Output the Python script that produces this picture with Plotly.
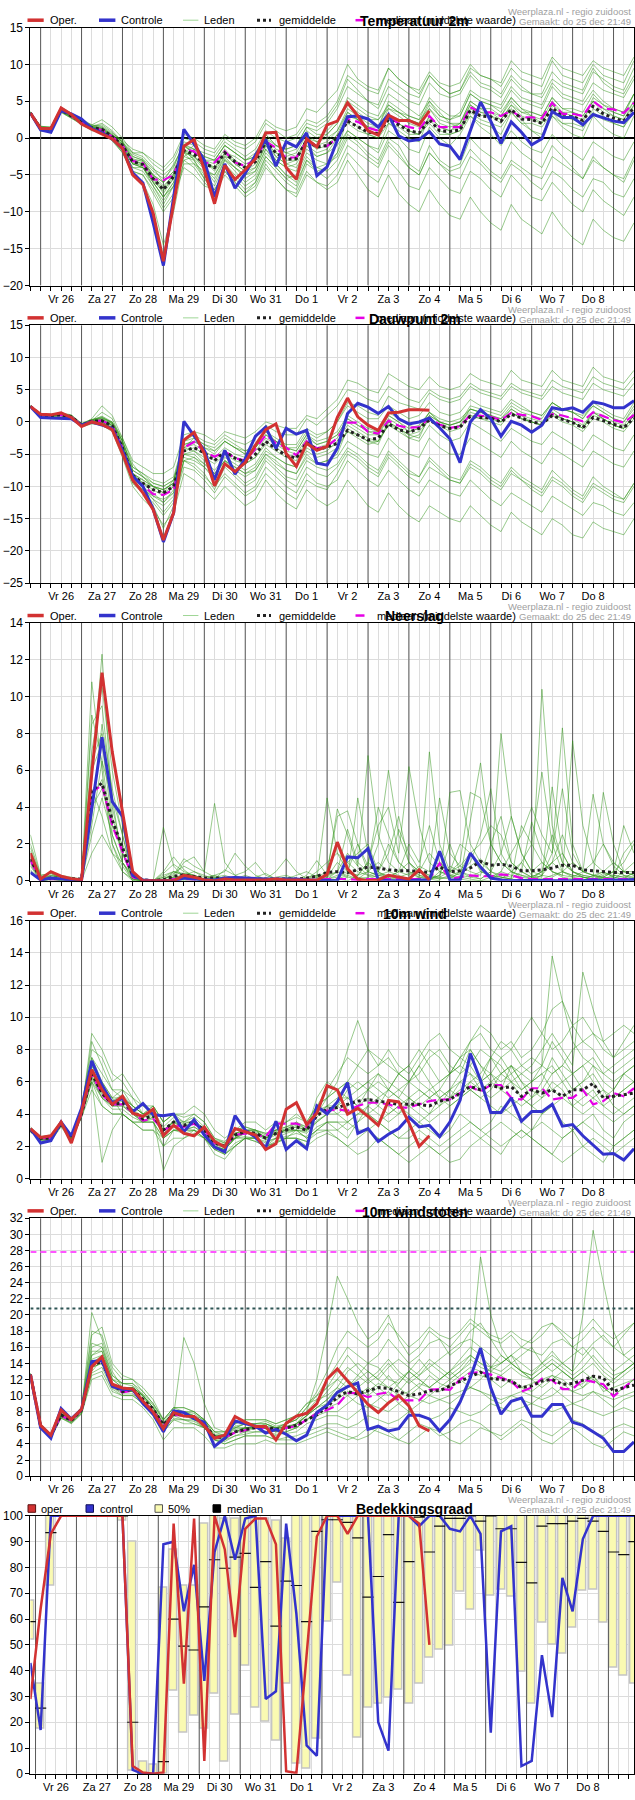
import pandas as pd
import plotly.graph_objects as go

FONT = "Liberation Sans, Arial, sans-serif"
W, H = 635, 1800

# ---------------- time axis ----------------
t_start = "2025-12-25 18:00"
t_start_cc = "2025-12-25 21:00"
n_steps = 60
day_labels = ["Vr 26", "Za 27", "Zo 28", "Ma 29", "Di 30", "Wo 31", "Do 1",
              "Vr 2", "Za 3", "Zo 4", "Ma 5", "Di 6", "Wo 7", "Do 8"]

# ---------------- Temperatuur 2m ----------------
t2m_oper = [3.4,1.3,1.3,4.1,3.2,1.9,1.2,0.6,-0.1,-1.4, -5.0,-6.3,-10.2,-16.7,-9.0,-1.1,-0.2,-4.3,-8.9,-3.7,
            -5.6,-4.3,-2.8,0.7,0.8,-4.0,-5.6,-0.1,-1.2,1.8, 2.3,4.8,3.0,1.0,0.4,3.1,2.4,2.4,1.8,3.7]
t2m_ctrl = [3.4,1.1,0.8,3.7,3.3,2.6,1.3,0.7,-0.1,-1.4, -4.7,-6.1,-11.5,-17.3,-8.0,1.2,-0.8,-3.0,-8.0,-3.5,
            -6.8,-4.8,-2.3,-0.2,-3.8,-0.5,-1.2,0.7,-5.1,-3.9, -0.3,2.9,3.0,2.6,1.5,3.2,0.3,-0.4,-0.2,0.9,
            -0.8,-1.1,-2.9,1.0,4.9,2.3,-0.7,2.2,0.8,-0.9, -0.1,3.6,2.8,2.8,1.8,3.2,2.8,2.3,2.1,3.5]
t2m_mean = [3.4,1.3,1.2,3.8,3.0,2.2,1.4,1.2,0.2,-1.0, -3.2,-3.6,-5.5,-7.0,-5.2,-1.7,-2.2,-3.5,-4.0,-2.0,
            -3.2,-4.0,-3.2,-0.5,-2.0,-2.9,-2.8,-0.3,-1.2,-1.0, 0.0,2.3,1.5,0.8,0.6,2.5,1.8,1.0,0.7,2.5,
            1.0,0.9,1.1,3.8,3.0,2.9,2.3,3.9,2.6,2.5, 2.0,4.1,2.9,2.9,2.4,4.3,3.3,2.7,2.3,4.2]
t2m_median = [3.4,1.3,1.2,3.8,3.0,2.2,1.4,1.1,0.2,-1.0, -3.1,-3.4,-5.6,-5.7,-5.0,-1.5,-1.8,-3.4,-3.3,-1.8,
              -3.3,-3.8,-2.8,-0.5,-1.3,-2.7,-2.6,-0.4,-1.2,-1.1, 0.0,2.6,2.2,1.4,1.0,2.8,2.0,1.5,1.2,3.0,
              1.5,1.5,1.5,4.2,3.5,3.5,3.0,3.7,2.8,2.8, 2.7,4.8,3.3,3.3,3.0,5.0,4.0,3.9,3.4,4.8]
t2m_members = [
    [3.6,1.5,1.4,4.0,3.2,2.4,1.6,1.5,0.5,-0.5, -2.5,-3.0,-4.5,-5.5,-4.0,-0.5,-1.0,-2.5,-3.0,-1.0, -2.0,-3.0,-2.0,0.5,-1.0,-1.5,-1.0,1.5,1.0,2.0, 4.0,7.0,6.0,5.0,4.5,8.0,7.0,6.0,5.5,8.5, 7.0,6.0,6.5,9.0,7.5,7.0,6.0,8.5,7.0,6.0, 5.5,8.0,7.0,6.5,6.0,9.0,8.0,7.0,6.5,9.5],
    [3.2,1.0,0.9,3.5,2.7,1.8,1.0,0.8,-0.3,-1.8, -4.5,-5.0,-7.5,-10.0,-8.0,-4.0,-5.0,-6.5,-7.0,-4.5, -6.0,-7.5,-6.5,-3.5,-5.5,-7.0,-7.5,-4.5,-6.0,-7.0, -6.0,-3.0,-5.0,-7.0,-8.0,-5.0,-7.5,-9.0,-10.0,-7.0, -9.0,-10.5,-11.0,-8.0,-10.0,-11.5,-12.5,-9.0,-11.0,-12.0, -13.0,-10.0,-12.0,-13.5,-14.5,-11.0,-12.5,-13.5,-14.0,-11.5],
    [3.5,1.4,1.3,3.9,3.1,2.3,1.8,2.5,1.5,0.0, -2.0,-2.5,-4.0,-6.0,-3.5,-1.0,-2.0,-3.0,-4.5,-2.5, -4.0,-5.0,-4.0,-1.0,-3.0,-4.0,-3.5,-1.0,-2.5,-2.0, -1.0,1.0,0.0,-1.0,-2.0,1.0,0.0,-1.5,-2.0,1.5, 0.0,-1.0,0.5,3.0,2.0,1.5,0.5,3.5,2.0,1.0, 0.5,3.0,2.0,1.5,1.0,4.0,3.0,2.0,1.5,4.5],
    [3.3,1.2,1.1,3.7,2.9,2.0,1.2,0.9,-0.2,-2.0, -5.0,-6.0,-9.0,-14.5,-10.0,-3.0,-2.5,-4.0,-6.0,-3.0, -4.5,-6.0,-5.0,-2.0,-3.5,-5.0,-6.0,-3.0,-4.0,-3.5, -2.0,3.0,2.5,1.5,1.0,4.0,3.5,2.5,2.0,5.0, 3.0,2.5,3.0,6.0,5.0,4.5,4.0,6.5,5.0,4.5, 4.0,7.0,5.5,5.0,4.5,6.5,5.0,4.0,3.5,6.0],
    [3.4,1.3,1.2,3.8,3.0,2.2,1.4,1.3,0.3,-0.8, -3.0,-3.5,-5.5,-7.0,-5.5,-1.5,-3.0,-5.0,-6.5,-3.5, -5.0,-6.5,-5.5,-2.5,-4.0,-5.5,-5.0,-2.0,-3.0,-3.5, -2.5,0.5,-0.5,-2.0,-3.0,0.0,-1.0,-3.5,-4.5,-1.0, -3.0,-4.0,-3.5,0.0,-1.5,-2.5,-3.5,-0.5,-2.0,-3.0, -4.0,-1.0,-2.5,-4.0,-5.5,-2.5,-4.0,-5.0,-6.0,-3.0],
    [3.5,1.6,1.5,4.1,3.3,2.5,1.7,1.4,0.4,-0.5, -2.0,-2.0,-3.5,-4.5,-3.0,0.0,-0.5,-1.5,-2.0,0.0, -1.0,-1.5,-0.5,2.0,1.0,0.0,0.5,2.5,2.0,3.0, 5.0,8.5,7.5,6.5,6.0,9.5,8.0,7.0,6.5,9.0, 7.5,7.0,7.5,10.0,8.5,8.0,7.0,9.5,8.0,7.5, 7.0,10.5,8.5,8.0,7.5,10.0,8.5,8.0,7.5,10.5],
    [3.3,1.1,1.0,3.6,2.8,2.0,1.3,1.0,0.0,-1.5, -4.0,-4.5,-6.5,-8.5,-6.5,-2.5,-1.5,-2.5,-3.0,-1.0, -2.0,-3.0,-2.5,0.0,-1.5,-2.0,-2.5,0.0,-0.5,0.0, 1.0,3.5,2.5,1.5,1.0,3.0,2.0,1.0,0.5,2.5, 1.0,0.5,1.0,4.0,3.0,3.5,2.5,4.5,3.0,2.5, 2.0,4.5,3.5,3.0,2.5,5.0,3.5,3.0,2.5,5.0],
    [3.4,1.4,1.3,3.9,3.1,2.4,1.6,2.0,1.0,-0.5, -3.0,-3.0,-5.0,-6.5,-5.0,-2.0,-3.5,-4.5,-5.0,-2.5, -3.0,-4.0,-3.0,-0.5,-2.5,-3.5,-3.0,-0.5,-1.5,-1.0, 0.5,2.0,1.0,0.5,0.0,2.0,1.5,0.5,0.5,2.0, 0.5,0.5,1.0,3.5,2.5,2.0,1.5,3.5,2.0,2.0, 1.5,3.5,2.0,2.0,1.5,3.5,2.5,2.0,1.5,3.5],
    [3.2,1.0,1.0,3.6,2.8,2.0,1.2,0.8,-0.2,-1.5, -3.5,-4.0,-6.0,-8.0,-6.0,-3.0,-4.0,-6.0,-7.5,-5.0, -6.5,-8.0,-7.0,-4.0,-5.5,-7.0,-8.0,-5.0,-6.0,-6.5, -5.0,-2.0,-3.5,-5.0,-6.0,-3.0,-4.5,-6.5,-7.0,-4.0, -5.5,-7.0,-7.5,-4.5,-5.5,-7.0,-8.0,-5.0,-6.5,-8.0, -8.5,-6.0,-7.5,-9.0,-10.0,-7.0,-8.5,-9.5,-10.5,-8.0],
    [3.5,1.5,1.4,4.0,3.2,2.3,1.5,1.3,0.3,-1.0, -3.5,-4.0,-6.0,-8.0,-6.5,-2.0,-1.0,-3.0,-4.0,-2.0, -2.5,-3.5,-3.0,0.0,-1.0,-2.0,-1.5,1.0,0.0,1.0, 2.5,5.0,4.0,3.0,2.5,4.5,3.5,3.0,2.5,4.0, 2.5,2.0,2.0,5.0,4.0,4.0,3.0,5.5,4.0,3.5, 3.0,5.5,4.0,4.0,3.5,6.0,4.5,4.0,3.5,6.0],
    [3.6,1.6,1.5,4.2,3.4,2.6,1.8,1.6,0.6,-0.3, -1.5,-2.0,-3.0,-4.0,-2.5,0.5,0.0,-1.0,-1.5,0.5, -0.5,-1.0,0.0,2.5,1.5,1.0,1.5,4.0,3.5,5.0, 6.5,10.0,8.0,7.0,6.5,9.5,8.0,7.0,6.0,8.5, 7.0,6.0,6.5,9.5,8.5,8.0,7.5,10.5,9.0,8.5, 8.0,11.0,9.5,9.0,8.5,10.5,9.5,9.0,8.5,11.0],
    [3.3,1.2,1.1,3.7,2.9,2.1,1.3,1.0,0.0,-1.2, -3.5,-3.5,-5.0,-6.0,-4.5,-1.5,-2.5,-4.0,-5.5,-3.0, -4.0,-5.0,-4.5,-1.5,-3.5,-5.0,-5.5,-2.5,-4.0,-4.5, -3.0,0.0,-1.0,-2.5,-3.5,-0.5,-2.0,-4.0,-5.0,-2.0, -3.5,-5.0,-5.5,-2.5,-3.5,-5.0,-6.0,-3.5,-4.5,-6.0, -7.0,-4.5,-5.5,-7.0,-8.0,-5.5,-6.0,-7.5,-8.0,-5.5],
    [3.4,1.3,1.2,3.8,3.0,2.2,1.4,1.1,0.1,-1.0, -3.0,-3.5,-5.5,-7.5,-5.5,-1.0,-1.5,-3.0,-3.5,-1.5, -3.0,-4.0,-3.0,-0.5,-2.0,-3.0,-3.0,0.0,-1.0,-0.5, 1.0,4.0,3.0,2.0,1.5,5.0,4.0,3.0,2.5,5.5, 4.0,3.0,3.0,6.0,5.0,4.5,3.5,5.5,4.0,3.0, 2.0,4.5,3.0,2.5,2.0,5.5,4.5,3.5,3.0,6.0],
    [3.2,1.0,0.9,3.5,2.7,1.9,1.1,0.7,-0.4,-2.0, -4.5,-5.0,-7.0,-9.5,-7.5,-3.5,-3.5,-5.5,-7.5,-4.0, -5.5,-7.0,-6.0,-3.0,-4.5,-6.0,-7.0,-3.5,-4.5,-4.0, -2.0,1.0,0.0,-1.0,-1.5,2.0,1.0,0.0,-0.5,3.0, 1.5,1.0,2.0,5.0,4.0,3.0,2.0,4.0,2.5,1.0, 0.0,3.0,1.5,0.5,0.0,3.0,1.5,0.5,0.0,3.0],
    [3.5,1.4,1.3,3.9,3.1,2.3,1.5,1.2,0.2,-0.8, -2.5,-3.0,-5.0,-6.0,-4.5,-1.0,-2.0,-3.0,-3.0,-1.0, -2.0,-3.0,-2.5,0.5,-1.0,-1.5,-1.0,1.5,0.5,0.5, 2.0,4.5,3.5,2.5,2.5,4.0,3.0,2.0,1.5,4.0, 2.0,1.5,2.0,4.5,3.5,3.5,3.0,5.0,3.5,3.5, 3.0,5.5,4.0,3.5,3.0,5.0,4.0,3.0,2.5,4.5],
    [3.3,1.2,1.1,3.7,2.9,2.1,1.3,1.0,-0.1,-1.3, -3.5,-4.0,-6.0,-8.0,-6.0,-2.0,-2.5,-3.5,-4.0,-2.0, -3.5,-4.5,-4.0,-1.0,-2.5,-3.5,-4.0,-1.5,-2.5,-2.0, 0.0,2.5,1.5,0.5,0.0,3.0,2.0,1.0,0.5,3.0, 1.5,1.0,1.5,4.5,3.5,3.0,2.5,4.5,3.5,3.0, 2.5,5.0,3.5,3.5,3.0,5.0,4.0,3.5,3.0,5.0],
    [3.4,1.2,1.2,3.8,3.0,2.1,1.3,1.1,0.2,-1.1, -3.3,-3.8,-5.8,-7.2,-5.0,-1.8,-2.8,-4.2,-5.0,-2.8, -4.0,-5.5,-4.5,-1.5,-3.0,-4.0,-4.5,-1.0,-2.0,-1.5, 0.5,3.5,2.5,1.5,1.5,4.5,3.5,2.5,2.0,4.5, 3.0,2.5,3.5,6.5,5.5,5.0,4.5,7.0,5.5,5.0, 4.5,7.5,6.0,5.5,5.0,7.5,6.5,6.0,5.5,8.0],
    [3.5,1.4,1.3,3.9,3.1,2.3,1.5,1.3,0.4,-0.7, -2.8,-3.2,-5.2,-6.8,-4.8,-1.2,-1.8,-3.2,-4.2,-2.2, -3.5,-4.5,-3.5,-0.8,-2.0,-2.5,-2.0,0.5,-0.5,0.5, 2.0,5.5,4.5,3.5,3.0,6.0,5.0,4.0,3.0,5.0, 3.5,2.0,1.5,3.0,1.5,0.5,-1.0,1.0,-0.5,-1.5, -2.0,0.5,-1.0,-2.0,-3.0,-0.5,-1.5,-2.5,-3.0,-0.5],
    [3.3,1.1,1.1,3.7,2.9,2.1,1.2,0.9,-0.1,-1.6, -4.0,-4.0,-6.5,-9.0,-6.5,-2.5,-3.0,-5.5,-7.0,-4.5, -6.0,-7.5,-6.0,-2.5,-4.0,-5.5,-6.5,-3.0,-4.5,-5.5, -4.0,-1.0,-2.0,-3.0,-4.0,-1.0,-2.5,-4.0,-5.0,-2.0, -3.5,-4.5,-4.0,-1.5,-3.0,-4.5,-5.5,-3.0,-4.0,-5.0, -5.5,-2.5,-3.5,-4.5,-5.5,-3.0,-4.0,-5.0,-5.5,-2.5],
    [3.5,1.5,1.4,4.0,3.2,2.4,1.6,1.8,0.8,-0.6, -2.2,-2.8,-4.2,-5.0,-3.8,-0.8,-1.5,-2.0,-2.5,-0.5, -1.5,-2.5,-1.5,1.0,0.0,-0.5,0.0,2.0,1.5,2.5, 4.5,8.0,6.5,5.0,4.0,7.0,6.0,5.0,4.5,7.5, 6.0,5.5,6.0,8.5,7.0,6.5,5.5,8.0,6.5,6.0, 6.0,9.0,7.5,7.0,6.5,9.5,7.5,6.5,6.0,8.5],
]

# ---------------- Dauwpunt 2m ----------------
td_oper = [2.4,1.2,1.1,1.4,0.7,-0.7,0.0,-0.4,-1.2,-4.9, -9.0,-11.0,-13.6,-18.3,-14.1,-2.8,-1.6,-4.9,-9.9,-6.5,
           -7.7,-6.3,-3.6,-1.2,-0.3,-4.9,-6.9,-3.3,-4.4,-3.8, 0.7,3.7,0.8,-0.5,-1.3,1.4,1.5,1.9,1.9,1.8]
td_ctrl = [2.4,0.7,0.6,0.6,0.5,-0.5,0.0,-0.5,-1.0,-4.4, -8.4,-10.0,-13.5,-18.6,-14.1,0.1,-2.2,-4.4,-9.0,-4.4,
           -8.1,-5.7,-2.2,-0.8,-4.1,-1.0,-1.9,-1.3,-6.4,-6.7, -4.1,1.3,2.9,2.3,1.3,2.4,0.5,-0.3,0.0,0.6,
           -0.9,-2.6,-6.3,0.0,1.9,0.5,-2.2,0.1,-0.5,-1.6, -0.5,2.2,1.9,2.2,1.5,3.1,2.8,2.2,2.2,3.3]
td_mean = [2.4,1.0,1.0,1.1,0.8,-0.5,0.1,0.2,-0.6,-4.0, -8.3,-9.5,-10.5,-11.0,-10.0,-4.5,-4.0,-4.8,-6.0,-4.6,
           -5.6,-6.2,-5.0,-3.0,-4.2,-5.2,-5.6,-3.2,-4.3,-3.9, -3.3,-1.3,-2.0,-2.8,-2.5,-0.3,-1.2,-1.6,-1.0,0.3,
           -0.6,-1.0,-0.8,0.9,0.7,0.6,0.0,1.2,0.6,0.0, -0.3,1.0,0.4,-0.1,-0.9,0.7,0.2,-0.4,-0.9,0.6]
td_median = [2.4,1.0,1.0,1.1,0.8,-0.5,0.1,0.2,-0.6,-4.0, -8.5,-9.8,-11.2,-11.3,-10.5,-4.0,-3.1,-4.6,-5.4,-4.6,
             -5.6,-6.0,-4.2,-2.0,-3.3,-4.0,-5.2,-3.0,-4.1,-3.8, -2.5,-0.1,-0.1,-1.5,-1.8,0.2,-0.6,-0.9,-0.8,0.6,
             -0.4,-0.9,-0.7,1.1,0.9,0.8,0.3,1.4,1.1,0.9, 0.3,1.2,1.0,0.6,0.1,1.5,0.9,0.3,-0.1,1.1]
td_members = [
    [2.5,1.2,1.1,1.3,1.0,-0.3,0.3,0.8,-0.2,-3.0, -7.0,-8.0,-9.0,-9.5,-8.5,-3.0,-2.5,-3.5,-4.5,-3.0, -4.0,-4.5,-3.5,-1.5,-2.5,-3.5,-3.5,-1.0,-2.0,-1.5, 0.0,3.0,2.5,1.5,1.0,4.0,3.0,2.5,2.0,4.5, 3.5,3.0,3.5,5.5,4.5,4.0,3.5,5.5,4.5,4.0, 3.5,5.5,4.5,4.0,3.5,6.0,5.0,4.5,4.0,6.0],
    [2.3,0.8,0.8,0.9,0.5,-0.8,-0.3,-0.5,-1.5,-5.5, -10.0,-12.0,-13.5,-16.0,-14.0,-8.0,-9.0,-10.5,-12.0,-10.0, -11.5,-13.0,-12.0,-9.0,-11.0,-12.5,-13.5,-10.5,-12.0,-13.0, -12.0,-9.0,-11.0,-13.0,-14.0,-11.0,-13.0,-14.5,-15.5,-13.0, -14.0,-15.0,-15.5,-13.0,-14.5,-16.0,-17.0,-14.0,-15.5,-16.5, -17.5,-15.0,-16.0,-17.5,-18.0,-15.5,-16.5,-17.0,-17.5,-15.0],
    [2.4,1.0,1.0,1.2,0.9,-0.4,0.5,2.5,1.0,-2.5, -6.5,-8.5,-10.0,-11.0,-9.0,-4.0,-4.5,-6.0,-7.5,-5.5, -6.5,-7.5,-6.5,-4.0,-5.5,-6.5,-7.0,-4.5,-5.5,-5.0, -4.0,-1.5,-2.5,-3.5,-3.0,-0.5,-1.5,-2.5,-2.0,0.5, -0.5,-1.5,-1.0,1.0,0.5,0.0,-0.5,1.5,0.5,0.0, -0.5,1.5,0.5,0.0,-1.0,1.5,0.5,-0.5,-1.0,1.0],
    [2.3,0.9,0.9,1.0,0.7,-0.6,0.0,-0.2,-1.2,-5.0, -9.5,-11.0,-13.0,-16.5,-13.0,-6.0,-5.5,-6.5,-8.0,-6.0, -7.0,-8.0,-7.5,-5.0,-6.0,-7.5,-8.0,-5.5,-6.5,-6.0, -5.0,-1.0,-2.0,-3.0,-3.5,0.0,-1.0,-2.0,-2.5,1.0, 0.0,-1.0,-0.5,2.0,1.5,1.0,0.5,2.5,1.5,1.0, 0.5,3.0,2.0,1.5,1.0,2.5,1.5,0.5,0.0,2.0],
    [2.4,1.0,1.0,1.1,0.8,-0.5,0.1,0.3,-0.5,-3.5, -8.0,-9.0,-10.0,-11.0,-10.0,-5.0,-5.5,-7.0,-9.0,-6.5, -8.0,-9.5,-8.5,-5.5,-7.0,-8.5,-9.0,-6.0,-7.0,-7.5, -6.5,-4.0,-5.0,-6.5,-7.5,-4.5,-6.0,-7.5,-8.5,-5.5, -7.0,-8.5,-9.0,-6.0,-7.0,-8.5,-9.5,-7.0,-8.5,-9.5, -10.5,-7.5,-9.0,-10.5,-11.5,-8.5,-10.0,-11.0,-12.0,-9.5],
    [2.5,1.3,1.2,1.4,1.1,-0.2,0.4,0.6,0.0,-2.5, -6.0,-7.0,-8.0,-8.0,-7.0,-2.0,-1.5,-2.0,-3.0,-1.5, -2.0,-2.5,-1.5,0.0,-0.5,-1.0,-1.0,1.0,0.5,2.0, 3.5,6.5,6.0,5.0,4.5,7.5,6.5,5.5,5.0,7.0, 5.5,5.0,5.5,7.5,6.5,6.0,5.5,8.0,6.5,6.0, 5.5,8.0,6.5,6.0,5.5,8.5,7.0,6.5,6.0,8.0],
    [2.3,0.9,0.9,1.0,0.6,-0.7,-0.2,0.0,-1.0,-4.5, -9.0,-10.0,-11.5,-12.5,-11.0,-4.0,-2.5,-3.5,-4.0,-2.5, -3.5,-4.5,-4.0,-2.0,-3.0,-4.0,-4.5,-2.0,-3.0,-2.5, -1.5,1.0,0.0,-1.0,-1.5,1.5,0.5,-0.5,-1.0,1.5, 0.0,-0.5,0.0,2.5,2.0,1.5,1.0,3.0,2.0,1.5, 1.0,3.0,2.0,1.5,0.5,2.5,1.5,0.5,0.0,2.5],
    [2.4,1.1,1.1,1.2,0.9,-0.4,0.2,1.5,0.5,-3.0, -7.5,-8.5,-10.0,-10.5,-9.5,-5.5,-6.0,-7.0,-8.5,-6.0, -7.5,-8.5,-7.5,-5.0,-6.5,-7.5,-8.0,-5.0,-6.5,-6.0, -5.5,-3.0,-4.0,-5.0,-5.5,-2.5,-4.0,-5.0,-5.5,-2.5, -4.0,-5.0,-5.0,-2.5,-3.5,-4.5,-5.5,-3.0,-4.5,-5.5, -6.5,-4.0,-5.0,-6.0,-7.0,-4.5,-5.5,-6.5,-7.0,-4.5],
    [2.4,1.0,1.0,1.1,0.8,-0.5,0.0,0.0,-0.8,-4.5, -9.0,-10.5,-11.5,-12.0,-11.0,-5.0,-4.5,-5.5,-6.5,-5.0, -6.0,-6.5,-5.5,-3.5,-4.5,-5.5,-6.0,-3.5,-4.5,-4.0, -3.5,-1.5,-2.0,-3.0,-3.0,-0.5,-1.0,-2.0,-1.5,0.5, -0.5,-1.0,-0.5,1.0,0.5,0.5,0.0,1.5,0.5,0.0, -0.5,1.0,0.0,-0.5,-1.5,0.5,0.0,-1.0,-1.5,0.5],
    [2.5,1.1,1.0,1.2,0.9,-0.4,0.2,0.5,-0.3,-3.5, -8.0,-9.5,-10.5,-11.5,-10.0,-4.0,-3.5,-4.5,-5.5,-4.0, -5.0,-5.5,-4.5,-2.5,-3.5,-4.5,-5.0,-2.5,-3.5,-3.0, -2.0,0.5,-0.5,-1.5,-1.5,1.0,0.0,-1.0,-0.5,1.5, 0.5,0.0,0.5,2.0,1.5,1.0,0.5,2.0,1.0,0.5, 0.0,2.0,1.0,0.5,-0.5,1.5,1.0,0.0,-0.5,1.5],
    [2.3,0.9,0.9,1.0,0.7,-0.6,0.0,0.0,-1.0,-4.5, -9.0,-10.5,-12.0,-13.0,-11.5,-6.0,-7.0,-8.5,-10.0,-8.0, -9.5,-11.0,-10.0,-7.0,-8.5,-10.0,-11.0,-8.0,-9.5,-10.0, -9.0,-6.0,-7.5,-9.0,-10.0,-7.5,-9.0,-10.5,-11.5,-9.0, -10.0,-11.0,-11.5,-9.0,-10.5,-12.0,-13.0,-11.0,-12.0,-13.0, -14.0,-11.5,-12.5,-13.5,-14.5,-12.5,-13.0,-14.0,-14.5,-12.5],
    [2.4,1.0,1.0,1.1,0.8,-0.5,0.1,0.2,-0.6,-4.0, -8.5,-9.5,-10.0,-10.5,-9.5,-3.5,-3.0,-4.0,-5.0,-3.0, -4.0,-5.0,-4.0,-2.0,-3.0,-4.0,-4.0,-1.5,-2.5,-1.5, 0.0,2.5,1.5,0.5,0.5,2.5,1.5,0.5,1.0,3.0, 1.5,1.0,1.5,3.5,2.5,2.0,1.5,3.5,2.5,1.5, 1.0,3.0,2.0,1.5,0.5,3.0,2.0,1.0,0.5,3.0],
    [2.4,1.1,1.1,1.2,0.8,-0.4,0.2,0.4,-0.5,-4.0, -8.5,-10.0,-12.0,-14.0,-12.0,-6.0,-6.5,-8.0,-10.5,-7.0, -8.5,-10.0,-9.0,-6.0,-7.5,-9.0,-10.0,-7.0,-8.0,-8.5, -7.0,-4.5,-5.5,-7.0,-8.0,-5.0,-6.5,-8.0,-8.5,-6.0, -7.5,-9.0,-9.5,-6.5,-7.5,-9.0,-10.0,-7.5,-9.0,-10.0, -11.0,-8.5,-9.5,-11.0,-12.0,-9.5,-10.5,-11.5,-12.0,-9.5],
    [2.5,1.2,1.1,1.3,1.0,-0.3,0.3,0.7,-0.1,-3.0, -7.0,-8.0,-9.5,-10.0,-9.0,-3.5,-3.0,-4.0,-4.5,-3.0, -4.0,-5.0,-4.0,-1.5,-3.0,-4.0,-4.5,-2.0,-3.5,-3.0, -2.0,0.5,-0.5,-1.5,-2.0,1.0,0.0,-1.5,-1.0,1.5, 0.0,-0.5,0.0,2.0,1.5,1.0,0.0,2.0,1.0,0.0, -0.5,1.5,0.5,0.0,-1.0,1.5,0.5,-0.5,-1.0,1.0],
    [2.4,1.0,1.0,1.1,0.8,-0.5,0.1,0.3,-0.6,-3.8, -8.0,-9.0,-10.0,-10.5,-9.5,-4.5,-4.0,-5.0,-6.0,-4.5, -5.5,-6.5,-5.5,-3.0,-4.0,-5.0,-5.5,-3.0,-4.0,-3.5, -2.5,0.0,-1.0,-2.0,-2.0,0.5,-0.5,-1.5,-1.0,1.0, 0.0,-0.5,0.0,1.5,1.0,0.5,0.0,1.5,0.5,0.0, -0.5,1.0,0.5,0.0,-1.0,1.0,0.5,-0.5,-1.0,1.0],
    [2.5,1.2,1.1,1.3,1.0,-0.3,0.3,0.9,0.0,-3.0, -7.5,-8.5,-9.5,-10.0,-9.0,-3.0,-2.0,-3.0,-3.5,-2.0, -3.0,-3.5,-2.5,-0.5,-1.5,-2.0,-2.0,0.5,-0.5,1.0, 2.5,5.0,4.5,3.5,3.0,5.5,4.5,3.5,3.0,5.0, 4.0,3.5,4.0,6.0,5.0,4.5,4.0,6.0,5.0,4.5, 4.0,6.5,5.5,5.0,4.5,7.0,6.0,5.5,5.0,7.0],
    [2.3,0.9,0.9,1.0,0.7,-0.6,0.0,-0.1,-0.9,-4.5, -9.5,-11.0,-12.5,-14.5,-12.5,-7.0,-7.5,-9.0,-11.0,-8.5, -10.0,-11.5,-10.5,-8.0,-9.5,-11.0,-12.0,-9.0,-10.0,-10.5, -8.0,-5.0,-6.0,-7.5,-8.5,-5.5,-7.0,-8.5,-9.5,-7.0, -8.0,-9.0,-9.5,-7.0,-8.0,-9.5,-10.5,-8.0,-9.0,-10.5, -11.5,-9.0,-10.0,-11.5,-12.5,-10.0,-11.0,-12.0,-12.5,-10.0],
    [2.4,1.1,1.0,1.2,0.9,-0.4,0.2,0.6,-0.2,-3.5, -8.0,-9.5,-11.0,-12.5,-10.5,-5.0,-5.0,-6.5,-8.0,-6.0, -7.0,-8.0,-7.0,-4.5,-5.5,-6.5,-7.0,-4.0,-5.0,-4.5, -3.0,-0.5,-1.5,-2.5,-3.0,0.0,-1.0,-2.5,-3.0,-0.5, -2.0,-3.0,-2.5,0.0,-1.0,-2.0,-3.0,-1.0,-2.0,-3.0, -3.5,-1.5,-2.5,-3.5,-4.5,-2.0,-3.0,-4.0,-4.5,-2.0],
]

# ---------------- Neerslag ----------------
pr_oper = [1.5,0.1,0.5,0.25,0.12,0.05,5.8,11.3,7.0,3.8, 0.5,0.0,0.0,0.0,0.0,0.3,0.2,0.05,0.0,0.1,
           0.05,0.05,0.05,0.05,0.1,0.05,0.05,0.05,0.03,0.35, 2.1,0.65,0.1,0.0,0.05,0.3,0.2,0.1,0.6,0.05]
pr_ctrl = [0.45,0.05,0.15,0.1,0.05,0.05,4.0,7.8,4.3,3.5, 0.3,0.05,0.0,0.0,0.0,0.15,0.1,0.05,0.05,0.15,
           0.18,0.15,0.1,0.1,0.1,0.1,0.1,0.05,0.02,0.0, 0.0,1.3,1.25,1.75,0.05,0.0,0.0,0.0,0.05,0.05,
           1.6,0.05,0.05,1.5,0.75,0.15,0.05,0.0,0.02,0.03, 0.02,0.0,0.02,0.0,0.0,0.05,0.02,0.05,0.03,0.08]
pr_mean = [1.2,0.1,0.15,0.15,0.12,0.1,4.9,5.3,3.3,1.8, 0.3,0.05,0.02,0.05,0.25,0.33,0.25,0.15,0.15,0.15,
           0.15,0.12,0.1,0.1,0.08,0.08,0.1,0.15,0.25,0.45, 0.5,0.45,0.6,0.75,0.7,0.6,0.55,0.55,0.5,0.45,
           0.75,0.5,0.55,0.7,1.05,0.85,0.9,0.8,0.55,0.55, 0.6,0.7,0.85,0.85,0.6,0.55,0.5,0.45,0.45,0.45]
pr_median = [1.1,0.05,0.1,0.1,0.08,0.05,4.8,5.2,3.0,1.6, 0.2,0.02,0.0,0.02,0.1,0.1,0.08,0.05,0.05,0.05,
             0.05,0.05,0.05,0.05,0.03,0.03,0.03,0.05,0.05,0.1, 0.1,0.1,0.05,0.1,0.1,0.1,0.1,0.1,0.1,0.1,
             0.95,0.1,0.2,0.3,0.25,0.25,0.35,0.3,0.15,0.1, 0.1,0.1,0.1,0.1,0.1,0.1,0.1,0.1,0.1,0.1]
pr_members = [
    [1.5,0.1,0.3,0.2,0.1,0.0,7.0,10.5,6.0,3.0, 0.3,0.0,0.0,0.0,0.1,0.4,0.3,0.1,0.2,0.3, 0.1,0.1,0.0,0.0,0.1,0.0,0.0,0.1,0.2,0.5, 3.5,3.8,2.0,0.5,0.3,0.2,0.5,1.0,0.3,0.1, 0.2,0.5,0.8,1.5,0.6,0.3,0.2,0.1,0.0,0.0, 0.3,1.0,0.5,0.2,0.1,0.0,0.2,0.5,0.3,0.2],
    [1.0,0.0,0.1,0.0,0.0,0.0,3.5,8.5,5.0,2.5, 0.2,0.0,0.0,0.3,0.5,0.3,0.1,0.0,0.0,0.1, 0.2,0.0,0.0,0.1,0.0,0.0,0.1,0.0,0.0,0.2, 0.5,1.5,0.8,6.8,2.5,1.0,0.5,0.3,0.8,0.5, 4.5,1.5,0.8,0.5,0.3,2.0,3.5,1.0,0.5,0.2, 0.5,1.0,2.5,1.0,0.5,0.3,0.2,0.1,0.5,1.0],
    [2.5,0.3,0.4,0.1,0.1,0.0,5.5,12.3,4.0,1.5, 0.1,0.0,0.0,0.0,0.2,1.0,1.3,0.5,0.2,0.1, 0.1,0.3,0.1,0.0,0.0,0.1,0.0,0.1,0.0,0.0, 0.1,0.3,0.1,0.2,0.4,0.3,0.1,0.0,0.2,7.0, 2.0,0.5,1.0,4.8,4.5,2.0,1.0,0.5,0.3,0.1, 0.3,1.5,5.0,1.5,0.5,0.3,0.1,0.2,0.1,0.0],
    [1.0,0.2,0.2,0.1,0.0,0.0,10.8,6.0,2.0,0.5, 0.0,0.0,0.0,2.9,0.8,0.2,0.1,0.0,0.0,0.2, 0.1,0.0,0.0,0.0,0.1,0.0,0.0,0.0,0.1,4.5, 1.5,0.5,0.2,0.1,0.3,0.5,2.8,1.5,0.6,0.3, 0.1,0.2,0.4,0.8,1.2,0.5,8.0,3.5,1.5,0.5, 1.0,0.5,0.3,0.2,0.5,1.0,2.0,0.8,0.3,0.1],
    [1.2,0.1,0.5,0.2,0.1,0.0,4.0,5.0,3.0,1.5, 0.1,0.0,0.0,0.1,0.3,1.2,0.8,0.5,4.2,1.0, 0.3,0.5,1.0,0.3,0.1,0.2,0.1,0.0,0.0,0.1, 0.3,0.5,2.0,0.8,4.0,2.5,1.0,0.5,0.2,0.1, 0.0,4.8,4.9,2.0,1.0,0.5,0.2,0.1,3.0,2.0, 1.0,0.5,0.3,7.6,3.0,1.0,0.5,0.2,0.1,0.5],
    [0.5,0.0,0.1,0.0,0.0,0.0,2.5,4.5,2.5,1.0, 0.0,0.0,0.0,0.5,1.3,0.6,0.2,0.1,0.3,0.5, 1.5,0.8,0.3,0.1,0.5,1.2,0.5,0.1,0.5,1.0, 1.5,1.0,1.5,2.0,0.5,0.1,0.0,0.0,0.0,0.0, 0.5,0.3,0.1,0.0,0.0,0.0,0.5,0.3,0.1,0.0, 10.4,3.0,1.0,0.5,0.2,0.1,0.1,0.3,0.2,0.1],
    [1.8,0.2,0.2,0.1,0.0,0.0,8.5,9.5,4.5,1.0, 0.2,0.0,0.0,0.0,0.5,0.3,0.2,0.1,0.1,0.0, 0.0,0.0,0.1,0.1,0.0,0.0,0.0,0.2,0.3,0.1, 0.2,0.4,0.3,1.0,3.0,4.0,1.5,6.2,3.0,1.0, 0.5,0.3,0.2,0.1,0.0,0.2,0.5,1.5,2.5,4.0, 2.5,1.5,8.3,2.0,0.5,0.3,0.2,0.1,0.0,0.2],
    [0.8,0.0,0.1,0.1,0.1,0.0,5.0,3.5,1.5,0.5, 0.1,0.0,0.0,0.0,0.1,0.0,0.1,0.0,0.0,0.0, 0.1,0.2,0.0,0.0,0.0,0.0,0.1,0.0,0.0,0.0, 0.0,0.2,4.5,1.5,0.5,2.0,1.0,0.5,0.3,0.2, 1.0,0.5,0.3,0.2,0.5,0.3,0.1,0.5,1.0,0.3, 0.2,5.1,1.5,0.5,0.3,0.2,4.8,2.0,0.5,0.3],
    [1.3,0.1,0.2,0.3,0.2,0.1,6.0,7.5,3.0,2.0, 0.5,0.1,0.0,0.0,0.2,0.3,0.5,0.3,0.1,0.2, 0.1,0.0,0.2,0.4,0.1,0.0,0.0,0.3,1.1,0.3, 0.5,0.2,0.1,0.5,1.0,0.5,0.3,0.1,0.5,1.5, 0.8,0.2,0.1,3.2,6.4,2.0,1.0,0.5,0.2,0.1, 0.5,2.5,1.0,0.5,0.2,0.1,0.3,0.5,1.0,2.0],
    [0.6,0.0,0.0,0.0,0.0,0.0,1.5,2.5,1.5,1.0, 0.3,0.0,0.0,0.2,0.2,0.1,0.0,0.0,0.1,0.6, 0.3,0.1,0.0,0.0,0.0,0.1,0.3,0.5,0.2,0.1, 0.5,2.8,1.0,0.5,0.3,0.2,0.1,0.0,0.0,0.1, 0.3,0.8,0.5,0.3,0.1,0.5,1.5,3.5,1.5,0.5, 0.3,0.2,0.5,1.0,0.5,4.7,2.0,1.0,0.5,0.5],
    [2.0,0.3,0.4,0.2,0.1,0.0,9.0,6.5,2.5,1.0, 0.1,0.0,0.0,0.1,0.4,0.8,0.5,0.2,0.3,0.1, 0.2,0.1,0.1,0.0,0.1,0.0,0.0,0.0,0.0,0.3, 2.0,1.0,0.5,0.3,0.5,1.5,3.5,1.0,0.5,0.3, 0.2,0.1,0.5,1.0,2.5,5.0,1.5,0.5,0.3,0.2, 0.1,0.3,0.5,0.3,0.2,0.1,0.2,0.5,3.0,1.5],
    [1.1,0.1,0.1,0.1,0.1,0.0,3.0,6.5,4.5,2.5, 0.3,0.0,0.0,0.0,0.0,0.1,0.2,0.1,0.0,0.0, 0.0,0.0,0.0,0.1,0.0,0.0,0.0,0.0,0.0,0.0, 0.1,0.0,0.3,1.0,0.5,0.2,0.5,2.0,1.0,3.0, 1.0,0.5,2.0,1.5,0.5,0.3,0.2,0.1,0.5,3.2, 1.5,0.5,0.2,0.1,0.0,0.3,0.5,0.2,1.5,2.2],
    [0.9,0.0,0.2,0.1,0.0,0.0,4.5,5.5,2.0,0.8, 0.0,0.0,0.0,0.4,0.9,0.5,0.3,0.1,0.0,0.0, 0.1,0.0,0.0,0.0,0.2,0.3,0.1,0.0,0.0,0.4, 3.9,2.5,0.8,0.3,0.2,0.1,0.2,0.4,0.2,0.1, 0.3,2.0,0.5,0.2,0.1,0.5,0.3,0.2,1.0,2.0, 5.9,2.0,0.5,0.3,0.2,0.1,0.4,0.3,0.2,0.4],
    [1.6,0.2,0.3,0.2,0.1,0.0,6.5,8.0,3.5,1.5, 0.2,0.0,0.0,0.2,0.5,0.4,0.3,0.1,0.2,0.1, 0.0,0.1,0.0,0.0,0.1,0.0,0.0,0.1,0.3,0.2, 1.0,0.5,0.3,0.5,2.0,6.0,2.5,1.0,0.5,0.2, 0.1,0.3,0.5,1.5,2.0,3.0,2.5,1.0,0.5,0.2, 0.5,1.0,1.5,0.5,0.3,0.2,0.5,1.0,0.5,0.3],
]

# ---------------- 10m wind ----------------
ws_oper = [3.1,2.55,2.65,3.5,2.2,4.15,6.75,5.5,4.6,5.1, 4.05,3.85,4.3,2.65,3.3,2.8,2.65,3.2,2.3,1.95,
           3.1,2.9,2.7,1.8,2.15,4.3,4.7,3.35,4.05,5.75, 5.5,4.0,4.35,3.85,3.3,4.85,4.75,3.45,2.0,2.65]
ws_ctrl = [3.1,2.2,2.35,3.5,2.65,4.35,7.3,5.8,4.7,4.95, 4.15,4.65,3.95,3.9,4.0,2.9,3.65,2.7,1.95,1.65,
           3.9,3.0,2.55,1.9,3.55,1.8,2.35,1.85,4.5,4.0, 4.75,5.95,2.8,3.1,2.3,2.75,3.1,3.8,3.2,3.3,
           2.6,3.5,4.85,7.75,6.1,4.1,4.1,5.0,3.55,4.15, 4.15,4.6,3.25,3.35,2.65,2.1,1.5,1.55,1.15,1.85]
ws_mean = [3.0,2.5,2.5,3.4,2.5,4.0,6.5,5.3,4.6,4.7, 4.2,3.7,3.9,3.0,3.5,3.3,3.5,3.0,2.2,2.0,
           2.7,2.9,2.8,2.5,2.8,3.0,3.2,3.0,3.9,4.3, 4.4,4.6,4.8,4.9,4.8,4.7,4.6,4.6,4.6,4.5,
           4.8,4.9,5.3,5.7,5.5,5.8,5.6,5.7,5.1,5.5, 5.3,5.5,5.1,5.5,5.5,5.9,5.0,5.1,5.2,5.3]
ws_median = [3.0,2.5,2.5,3.4,2.5,4.0,6.5,5.2,4.6,4.6, 4.1,3.6,3.7,3.0,3.3,3.2,3.4,3.0,2.2,2.0,
             2.7,2.8,2.7,2.6,3.4,3.4,3.4,3.2,4.3,4.2, 4.3,4.2,4.5,4.7,4.7,4.6,4.4,4.4,4.6,4.8,
             4.9,4.9,5.3,5.7,5.4,5.8,5.8,5.0,4.9,5.6, 5.6,4.9,5.0,5.0,5.5,4.6,4.8,5.3,5.1,5.6]
ws_members = [
    [3.2,2.6,2.7,3.6,2.7,4.2,7.0,6.0,5.0,5.5, 4.5,4.0,4.5,3.5,4.0,3.5,4.0,3.5,2.5,2.3, 3.0,3.2,3.0,2.8,3.0,3.5,3.8,3.5,4.5,5.5, 6.5,7.5,7.0,6.5,7.0,8.0,7.0,6.5,7.5,8.5, 9.0,8.0,7.5,8.5,9.5,9.0,8.0,8.5,7.5,8.0, 9.0,10.5,11.0,9.5,8.5,9.0,8.0,7.5,8.5,9.5],
    [2.9,2.4,2.3,3.2,2.3,3.8,6.0,4.5,4.0,4.0, 3.5,3.0,3.0,2.0,2.5,2.5,2.8,2.5,1.8,1.5, 2.0,2.5,2.3,2.0,2.2,2.5,2.5,2.0,2.5,2.8, 2.5,2.0,1.5,1.8,2.5,2.0,1.5,1.0,1.5,2.0, 1.5,1.0,1.2,2.0,2.5,2.0,1.5,2.5,3.0,2.5, 2.0,1.5,2.5,3.0,2.0,1.5,1.0,2.0,2.5,3.0],
    [3.1,2.6,2.6,3.5,2.6,4.5,8.0,7.5,6.0,6.5, 5.5,4.5,4.0,3.0,3.5,3.0,3.5,3.0,2.0,1.8, 2.5,3.0,3.0,2.5,3.0,3.0,3.5,3.0,5.0,6.0, 5.5,5.0,4.5,5.5,6.5,5.5,5.0,6.0,7.0,6.0, 5.0,5.5,6.5,8.0,7.0,6.0,5.5,7.0,6.0,5.0, 6.0,7.5,6.5,5.5,6.0,7.0,6.0,5.5,6.5,7.0],
    [3.0,2.5,2.4,3.3,2.4,3.9,6.2,5.0,4.5,4.5, 4.0,3.5,3.8,0.5,2.0,2.5,3.0,2.8,2.0,1.5, 2.0,2.5,2.5,2.0,2.5,2.5,3.0,2.5,3.0,3.5, 3.0,2.5,3.5,4.0,3.5,3.0,2.5,3.0,3.5,3.0, 2.5,3.0,4.0,3.5,3.0,3.5,4.5,4.0,3.5,3.0, 4.0,4.5,3.5,3.0,3.5,4.0,3.0,2.5,3.5,4.0],
    [3.0,2.5,2.5,3.4,2.5,4.0,6.5,5.5,5.0,5.0, 4.5,4.0,4.0,3.0,3.5,3.5,3.5,3.0,2.2,2.0, 2.8,3.0,3.0,2.5,2.8,3.0,3.0,3.0,4.0,5.0, 6.0,8.0,9.8,8.0,7.0,7.5,6.5,7.0,8.0,7.0, 6.0,6.5,7.5,7.0,6.0,6.5,7.5,6.5,5.5,6.0, 7.0,8.5,7.5,6.5,7.0,6.0,5.0,5.5,6.5,6.0],
    [3.1,2.6,2.5,3.4,2.6,4.1,9.0,8.0,6.5,6.0, 5.0,4.5,4.5,3.5,4.0,4.0,4.5,4.0,3.0,2.5, 3.0,3.5,3.5,3.0,3.5,3.5,4.0,3.5,4.5,5.0, 5.5,6.0,7.0,8.0,7.5,7.0,6.5,6.0,6.5,7.5, 8.0,7.0,6.5,7.0,8.0,7.5,6.5,6.0,6.5,7.0, 8.0,9.0,8.0,7.0,12.8,10.5,8.5,7.5,8.0,8.5],
    [2.9,2.4,2.4,3.3,2.4,3.9,6.0,1.0,3.0,4.0, 3.5,3.5,3.5,2.5,3.0,3.0,3.0,2.5,1.8,1.8, 2.5,2.5,2.5,2.3,2.5,2.8,3.0,2.5,3.0,3.5, 3.5,3.0,3.5,4.5,5.0,4.5,4.0,5.0,5.5,5.0, 4.5,5.0,6.0,6.5,5.5,5.0,5.5,6.0,5.0,4.5, 5.0,6.0,5.5,4.5,5.0,5.5,4.5,4.0,4.5,5.0],
    [3.0,2.5,2.5,3.5,2.5,4.0,7.5,6.0,5.0,4.0, 3.5,3.5,3.5,2.5,3.0,3.0,3.0,2.5,1.5,1.2, 2.0,2.5,2.5,2.0,2.3,2.5,2.5,2.3,3.0,3.0, 3.0,3.5,4.0,4.0,3.5,4.0,4.5,4.0,3.5,4.0, 4.5,5.5,6.0,5.5,5.0,5.5,6.5,7.0,6.0,5.5, 5.0,5.5,6.0,5.0,4.5,5.0,5.5,4.5,4.0,4.5],
    [3.1,2.5,2.6,3.4,2.5,4.1,6.8,5.8,4.8,5.2, 4.5,4.0,4.0,3.0,3.5,3.2,3.5,3.0,2.2,2.0, 2.5,2.8,2.8,2.5,2.8,3.0,3.2,3.0,3.5,4.0, 4.5,5.5,6.0,5.5,5.0,5.5,6.5,6.0,5.5,5.0, 5.5,6.5,7.0,6.5,6.0,7.5,8.5,8.0,7.0,6.5, 7.0,13.8,11.0,8.5,7.5,7.0,6.5,7.0,7.5,8.0],
    [2.9,2.4,2.4,3.3,2.4,3.9,6.3,5.0,4.3,4.3, 3.8,3.5,3.7,2.8,3.2,3.0,3.2,2.8,2.0,1.8, 2.5,2.6,2.5,2.2,2.5,2.6,2.8,2.6,3.2,3.5, 3.5,3.5,3.0,3.0,3.5,3.0,2.5,2.5,3.0,2.5, 2.0,2.5,3.0,3.5,3.0,2.5,2.0,2.5,3.0,2.5, 2.0,1.5,1.0,1.5,2.0,2.5,2.0,1.5,2.0,2.5],
    [3.0,2.5,2.5,3.4,2.5,4.0,6.6,5.3,4.6,4.8, 4.2,3.8,3.9,3.0,3.6,3.4,3.6,3.1,2.3,2.1, 2.8,3.0,2.9,2.6,2.9,3.1,3.3,3.1,4.0,4.5, 4.5,4.0,4.5,5.0,4.5,4.0,4.5,5.0,4.5,4.0, 5.0,5.5,5.0,6.0,6.5,7.5,7.0,6.0,5.5,6.0, 6.5,5.5,5.0,5.5,6.0,6.5,5.5,5.0,5.5,6.0],
    [3.1,2.6,2.6,3.5,2.6,4.2,7.5,6.5,5.5,5.5, 5.0,4.0,4.5,3.5,4.0,3.8,4.0,3.5,2.5,2.2, 3.0,3.2,3.0,2.8,3.0,3.2,3.5,3.2,4.5,5.0, 5.5,6.0,5.5,6.0,6.5,6.0,5.5,6.0,7.0,8.0, 7.5,6.5,7.0,8.5,9.0,8.0,7.5,8.0,9.0,10.0, 9.0,8.0,8.5,9.5,10.0,9.0,8.5,9.0,9.5,9.0],
    [2.9,2.4,2.4,3.3,2.4,3.8,5.5,4.5,4.0,4.0, 3.5,3.0,3.0,2.5,3.0,2.8,3.0,2.5,1.8,1.5, 2.2,2.5,2.3,2.0,2.2,2.5,2.5,2.3,2.8,3.0, 2.5,2.0,2.5,3.0,2.5,2.0,1.5,2.0,2.5,2.0, 1.5,2.0,2.5,3.0,2.5,3.0,3.5,3.0,2.5,3.0, 3.5,3.0,2.5,3.0,3.5,3.0,2.5,2.0,2.5,3.0],
    [3.0,2.5,2.5,3.4,2.5,4.0,7.0,5.5,4.8,5.0, 4.3,3.8,4.0,3.0,3.5,3.3,3.5,3.0,2.2,2.0, 2.7,2.9,2.8,2.5,2.8,3.0,3.2,3.0,3.8,4.5, 5.0,5.0,5.5,6.0,5.5,5.0,5.5,5.0,4.5,5.0, 5.5,5.0,5.5,6.0,5.5,6.0,6.5,7.0,6.5,6.0, 6.5,7.0,6.0,6.5,7.0,7.5,6.5,6.0,6.5,7.0],
    [3.0,2.5,2.5,3.4,2.5,4.0,6.0,5.0,4.5,4.5, 4.0,3.5,3.5,2.0,3.0,3.0,3.2,2.8,2.0,1.8, 2.5,2.8,2.8,2.5,2.8,3.0,3.0,2.8,3.5,4.0, 4.0,4.5,5.0,5.5,6.0,5.5,5.0,4.5,5.0,5.5, 6.0,6.5,7.5,8.0,7.0,6.5,6.0,6.5,7.0,7.5, 7.0,6.5,7.0,8.0,8.5,8.0,7.0,6.5,7.0,7.5],
    [3.1,2.6,2.6,3.5,2.6,4.1,8.5,7.0,5.5,5.0, 4.5,4.0,4.2,3.2,3.8,3.5,3.8,3.2,2.4,2.2, 2.8,3.0,3.0,2.7,3.0,3.2,3.4,3.2,4.2,4.5, 4.0,3.5,4.0,4.5,4.0,3.5,4.0,4.5,4.0,3.5, 4.0,4.5,5.0,5.5,5.0,4.5,4.0,4.5,5.0,4.5, 4.0,4.5,5.0,4.5,4.0,4.5,4.0,3.5,4.0,4.5],
    [2.9,2.4,2.4,3.3,2.4,3.9,6.4,5.2,4.5,4.6, 4.0,3.6,3.8,2.8,3.3,3.2,3.4,2.9,2.1,1.9, 2.6,2.8,2.7,2.4,2.7,2.9,3.0,2.9,3.6,4.0, 4.5,5.0,4.5,4.0,4.5,5.5,6.5,7.0,6.0,5.5, 5.0,4.5,5.0,5.5,6.0,6.5,5.5,5.0,4.5,5.0, 5.5,6.5,7.0,6.5,5.5,5.0,4.5,5.0,5.5,6.0],
]

# ---------------- 10m windstoten ----------------
gust_oper = [12.6,6.3,5.1,8.2,7.05,8.3,13.6,14.8,11.4,10.95, 10.8,9.3,7.95,5.9,7.9,7.45,7.4,6.25,4.7,5.1,
             7.4,6.7,6.15,6.15,4.5,6.55,7.45,7.8,9.0,12.05, 13.3,11.8,10.35,8.9,7.9,9.1,10.0,8.7,6.25,5.6]
gust_ctrl = [12.6,6.0,4.7,8.4,7.1,8.3,14.2,14.35,11.15,10.75, 10.75,9.0,7.7,5.5,8.1,7.9,7.15,6.7,3.7,4.7,
             6.85,6.55,6.2,5.35,5.8,5.2,4.4,5.1,7.9,8.8, 10.4,11.1,11.55,5.8,6.2,5.6,5.9,7.55,7.55,7.1,
             5.6,7.0,9.2,12.2,15.9,10.95,7.7,9.3,9.7,7.45, 7.45,8.9,8.9,6.7,6.3,5.5,4.7,3.05,3.05,4.25]
gust_mean = [12.6,6.2,5.0,7.6,6.9,8.2,13.8,14.2,11.3,10.5, 10.8,9.6,8.3,6.4,7.7,7.6,7.3,6.4,4.9,4.8,
             5.5,5.8,6.0,6.1,5.8,6.0,6.3,7.0,7.6,8.6, 9.8,10.5,10.2,10.6,11.0,10.9,10.5,10.0,10.2,10.6,
             10.6,11.2,11.8,12.4,12.9,12.1,12.0,11.8,11.0,11.2, 11.8,12.0,11.4,11.5,11.9,12.4,12.2,10.5,11.0,11.3]
gust_median = [12.6,6.2,5.0,7.5,6.9,8.2,14.0,14.3,11.2,10.4, 10.6,9.4,8.1,6.3,7.6,7.5,7.3,6.3,4.8,4.8,
               5.4,5.7,6.0,6.0,5.7,6.0,6.2,7.0,7.8,8.2, 8.8,10.3,10.3,9.8,10.2,10.4,9.4,9.4,9.4,10.7,
               10.8,10.7,12.0,12.8,12.9,12.6,12.2,11.8,10.5,11.0, 12.1,11.9,10.8,10.8,12.0,11.7,11.4,9.9,11.0,12.0]
gust_members = [
    [12.8,6.5,5.2,8.0,7.2,8.5,15.0,16.0,12.0,11.5, 11.5,10.0,8.5,6.5,8.0,8.0,7.5,6.5,5.0,5.0, 6.0,6.5,6.5,6.5,6.0,6.5,7.0,8.5,10.0,12.0, 14.0,16.0,15.0,14.0,15.0,17.0,15.5,14.0,15.0,16.5, 17.0,16.0,17.5,19.0,18.0,17.0,16.5,17.5,16.0,17.0, 18.5,19.0,17.5,16.0,17.0,18.5,17.0,16.0,17.5,19.0],
    [12.5,6.0,4.8,7.2,6.6,7.8,12.5,13.0,10.5,10.0, 10.0,9.0,7.5,5.5,7.0,7.0,6.5,6.0,4.5,4.0, 4.5,5.0,5.0,5.0,4.5,4.5,4.5,5.0,5.5,6.0, 5.5,5.0,4.5,5.0,6.0,5.5,4.5,4.0,5.0,6.0, 5.5,4.5,4.0,5.0,6.0,5.5,4.5,5.5,6.5,5.5, 4.5,4.0,5.0,6.0,5.0,4.0,3.5,4.5,5.5,5.0],
    [12.7,6.3,5.1,7.8,7.0,8.3,17.5,18.5,14.0,12.5, 12.0,11.0,9.5,7.0,8.5,8.5,8.0,7.0,5.5,5.5, 6.5,7.0,7.0,7.0,6.5,7.0,7.5,9.0,10.0,11.0, 12.0,11.0,12.5,14.0,13.5,12.0,11.5,13.0,14.5,13.0, 12.0,13.0,14.5,16.0,15.0,13.5,14.0,15.0,13.0,12.5, 14.0,15.5,14.0,13.0,14.5,16.0,14.5,13.0,14.0,15.0],
    [12.6,6.2,5.0,7.5,6.8,8.0,13.5,14.0,11.0,10.5, 10.5,9.5,8.0,6.0,7.5,7.5,7.0,6.5,4.8,4.5, 5.5,5.5,5.5,5.5,5.0,5.5,6.0,7.0,8.0,8.5, 9.0,10.0,9.0,8.5,9.5,10.5,9.0,8.0,9.0,10.0, 9.5,9.0,10.0,11.0,10.5,9.5,9.0,10.0,9.5,9.0, 10.0,11.0,10.0,9.0,9.5,10.5,9.5,8.5,9.5,10.0],
    [12.6,6.2,5.0,7.6,6.9,8.2,20.3,17.0,13.0,11.0, 11.0,10.0,8.5,6.5,8.0,7.5,7.5,6.5,5.0,4.5, 5.5,6.0,6.0,6.0,5.5,6.0,6.5,8.0,12.0,18.0, 24.8,22.0,19.0,17.0,18.0,20.0,17.0,15.0,16.0,18.0, 17.0,15.0,16.0,18.0,19.0,17.0,15.0,14.0,15.0,16.0, 14.0,13.0,14.0,15.0,16.0,14.5,13.0,12.0,13.0,14.0],
    [12.5,6.0,4.8,7.4,6.7,7.9,13.0,14.5,11.5,10.5, 10.5,9.5,8.0,6.0,7.5,17.2,14.0,9.0,6.0,5.5, 6.0,6.0,6.0,6.0,5.5,5.5,6.0,7.0,7.5,8.0, 8.0,9.0,10.0,11.0,10.0,9.0,10.5,12.0,11.0,10.0, 11.0,12.0,13.0,14.0,27.2,20.0,16.0,14.0,13.0,12.0, 11.0,12.0,13.0,12.0,11.0,12.0,11.0,10.0,11.0,12.0],
    [12.6,6.1,4.9,7.5,6.8,8.1,14.0,15.0,11.5,10.5, 10.5,9.5,8.0,6.0,7.5,7.0,7.0,6.0,4.5,4.5, 5.0,5.5,6.0,6.0,5.5,6.0,6.0,7.0,8.0,9.0, 10.0,11.0,12.0,13.0,12.0,11.0,12.0,13.0,12.0,11.0, 12.0,13.0,14.0,15.0,14.0,13.0,14.0,15.0,14.0,13.0, 14.0,15.0,14.0,13.0,20.0,30.5,24.0,18.0,15.0,14.0],
    [12.7,6.4,5.1,7.8,7.0,8.4,15.5,15.5,12.0,11.0, 11.0,10.0,8.5,6.5,8.0,8.0,7.5,7.0,5.0,5.0, 5.5,6.0,6.0,6.5,6.0,6.0,6.5,7.5,8.5,9.5, 10.5,12.0,11.0,10.0,11.0,12.5,11.0,10.0,11.0,12.5, 11.5,11.0,12.0,13.0,12.5,12.0,11.0,12.0,11.0,10.5, 11.5,12.5,11.5,10.5,11.0,12.5,11.0,10.0,11.0,12.0],
    [12.5,5.9,4.7,7.2,6.5,7.7,12.0,12.5,10.0,9.5, 9.5,8.5,7.0,4.5,6.0,6.0,6.0,5.0,3.5,3.5, 4.0,4.0,4.0,4.5,4.0,4.0,4.0,4.5,5.0,5.5, 5.0,4.5,5.0,6.0,5.5,5.0,4.5,5.5,6.5,6.0, 5.0,5.5,6.5,7.0,6.5,5.5,5.0,6.0,7.0,6.5, 5.5,5.0,6.0,7.0,6.5,5.5,5.0,6.0,6.5,6.0],
    [12.6,6.2,5.0,7.6,6.9,8.2,14.5,15.0,11.5,10.8, 11.0,10.0,8.5,6.5,8.0,7.5,7.5,6.5,5.0,5.0, 5.5,6.0,6.0,6.0,6.0,6.0,6.5,7.5,9.0,10.5, 12.0,13.5,12.5,11.5,12.5,14.0,12.5,11.5,12.5,14.0, 13.0,12.0,13.0,14.5,13.5,13.0,12.5,13.5,12.5,12.0, 13.0,14.0,13.0,12.0,13.0,14.0,12.5,11.5,12.5,13.5],
    [12.6,6.3,5.0,7.7,7.0,8.3,16.0,16.5,12.5,11.5, 11.5,10.5,9.0,7.0,8.5,8.5,8.0,7.0,5.5,5.5, 6.5,7.0,7.0,7.0,6.5,7.0,7.5,9.0,9.5,10.0, 11.0,10.0,11.0,12.0,11.0,10.0,11.5,13.0,12.0,11.0, 12.0,13.0,12.0,11.0,12.0,13.5,15.0,14.0,13.0,12.0, 13.0,14.0,13.0,12.0,13.0,12.0,11.0,12.0,13.0,14.0],
    [12.7,6.4,5.2,8.0,7.1,8.6,18.0,17.5,13.5,12.0, 12.0,10.5,9.0,7.0,8.5,8.0,8.0,7.0,5.5,5.0, 6.0,6.5,6.5,6.5,6.0,6.5,7.0,8.5,10.5,13.0, 16.0,18.0,17.0,16.0,17.0,19.0,17.5,16.0,17.0,18.5, 17.5,17.0,18.0,19.5,18.5,17.5,17.0,18.0,17.0,16.5, 17.5,19.0,18.0,17.0,18.0,19.5,18.0,17.0,18.0,19.0],
    [12.5,6.0,4.8,7.3,6.6,7.8,12.8,13.5,10.8,10.0, 10.0,9.0,7.5,5.5,7.0,6.5,6.5,6.0,4.5,4.0, 4.5,5.0,5.0,5.0,4.5,4.8,5.0,5.5,6.0,6.5, 6.5,6.0,6.5,7.5,7.0,6.5,7.0,8.0,7.5,7.0, 7.5,8.5,8.0,7.5,8.0,9.0,8.5,8.0,8.5,9.0, 8.5,8.0,8.5,9.0,8.5,8.0,7.5,8.0,8.5,8.0],
    [12.6,6.2,5.0,7.6,6.9,8.2,14.0,14.5,11.2,10.5, 10.8,9.8,8.2,6.2,7.8,7.5,7.3,6.4,4.8,4.8, 5.5,5.8,6.0,6.0,5.8,6.0,6.3,7.5,8.5,9.0, 9.5,10.5,10.0,10.5,11.5,11.0,10.0,10.5,11.5,11.0, 10.5,11.5,12.5,13.5,13.0,12.0,12.5,11.5,11.0,11.5, 12.0,12.5,12.0,11.0,11.5,12.5,10.5,11.0,11.5,12.0],
    [12.6,6.2,5.0,7.6,6.9,8.2,15.0,15.5,12.0,11.0, 11.0,10.0,8.5,6.5,8.0,7.8,7.5,6.5,5.0,5.0, 5.8,6.0,6.2,6.2,6.0,6.2,6.5,7.5,8.5,9.5, 11.0,13.0,14.0,13.0,12.0,13.5,14.5,13.5,12.5,13.5, 14.5,15.5,16.5,17.0,16.0,15.0,14.0,15.0,16.0,15.5, 15.0,16.5,17.0,16.0,15.0,16.5,17.5,16.0,15.0,16.0],
    [12.5,6.1,4.9,7.4,6.8,8.0,13.5,14.0,11.0,10.2, 10.2,9.2,7.8,5.8,7.2,7.0,6.8,6.0,4.5,4.3, 5.0,5.2,5.5,5.5,5.2,5.3,5.5,6.5,7.0,7.5, 7.5,7.0,8.0,9.0,8.5,8.0,9.0,10.0,9.5,9.0, 9.5,10.0,10.5,11.0,10.5,10.0,9.5,10.0,10.5,10.0, 9.5,10.0,11.0,10.5,10.0,10.5,10.0,9.5,10.0,10.5],
    [12.7,6.3,5.1,7.8,7.0,8.4,16.5,16.0,12.5,11.5, 11.2,10.2,8.8,6.8,8.2,8.0,7.8,6.8,5.2,5.2, 6.2,6.5,6.5,6.8,6.2,6.5,7.0,8.0,9.5,11.0, 13.0,15.0,13.5,12.0,13.0,14.5,13.0,12.0,13.0,14.5, 13.5,12.5,13.5,15.0,14.0,13.5,13.0,14.0,13.0,12.5, 13.5,14.5,13.5,12.5,13.5,15.0,13.5,12.5,13.0,14.0],
]
gust_threshold_low = 20.8
gust_threshold_high = 27.8

# ---------------- Bedekkingsgraad ----------------
cc_oper = [29,64,93,100,100,100,100,100,100,100, 3,0.5,0,0.5,97,35,99,5,100,87,
           53,95,99,99,89,1,0.3,45,92,100, 100,93,100,100,100,100,100,100,97,50]
cc_ctrl = [43,17,100,100,100,100,100,100,100,100, 1.5,0,0,89,90,63,81,36,86,100,
           83,99,100,29,32,97,62,11,7,100, 100,100,100,100,20,9,100,100,96,100,
           100,95,94,100,93,16,94,96,3,5, 46,22,76,63,91,100,100,100,100,100]
cc_p25 = [52,17.5,73,100,100,100,100,100,100,98, 1,0,0,0,32,16,22.5,17.5,31,4.7,
          23,42,25.5,20,12.7,35,4,2,13.5,59, 74,38,14,25.5,27,29.5,32.7,27,35,45,
          48,49.5,70.5,63.5,86.5,69,71.5,68.5,39.5,27, 58.5,50,46.5,56.5,71,71.5,58.5,41,38,35]
cc_p75 = [67,35,100,100,100,100,100,100,100,100, 90,4.7,3.5,72,87,73,73,97,100,99,
          99,100,99,99,98,91,100,100,100,100, 100,100,100,100,100,100,100,100,100,100,
          100,100,100,100,100,100,100,100,100,100, 100,100,100,100,100,100,100,100,100,100]
cc_median = [59,25.5,93.5,100,100,100,100,100,100,100, 20,0,0,4.7,60,49.5,48,64.7,83,79.7,
             84,85.5,72.3,82.3,57.3,74.7,73,59,94,98.5, 98.5,97.5,91.5,68.5,76.5,92.7,66.5,82.3,99.5,86,
             96,99,99,100,98,100,95,95,82,74, 96,97,97,98,99,98,94,86,85,90]

# ---------------- styling ----------------
C_OPER = "#d23232"
C_CTRL = "#3333cc"
C_MEMBER = "rgba(50,150,25,0.5)"
C_MEAN = "#222222"
C_MED = "#e600e6"
C_GRID = "#dcdcdc"
C_DAY = "#5a5a5a"

times = [t.strftime("%Y-%m-%d %H:%M") for t in pd.date_range(t_start, periods=n_steps, freq="6h")]
times_cc = [t.strftime("%Y-%m-%d %H:%M") for t in pd.date_range(t_start_cc, periods=n_steps, freq="6h")]
noons = [t.strftime("%Y-%m-%d %H:%M") for t in pd.date_range("2025-12-26 12:00", periods=len(day_labels), freq="D")]
midnights = [t.strftime("%Y-%m-%d %H:%M") for t in pd.date_range("2025-12-26 00:00", periods=15, freq="D")]
range_main = ["2025-12-25 18:00", "2026-01-09 12:00"]
range_cc = ["2025-12-25 21:00", "2026-01-09 15:00"]

X0, X1 = 30.4, 634.0
TOP_OFF, BOT_OFF = 20.7, 280.7


def py(px):
    return 1 - px / H


def pxx(px):
    return px / W


def sfx(k):
    return "" if k == 1 else str(k)


panels = [
    dict(title="Temperatuur 2m", yr=[-20, 15], dt=5, mem=t2m_members, oper=t2m_oper, ctrl=t2m_ctrl, mean=t2m_mean, med=t2m_median, zero=True),
    dict(title="Dauwpunt 2m", yr=[-25, 15], dt=5, mem=td_members, oper=td_oper, ctrl=td_ctrl, mean=td_mean, med=td_median, zero=False),
    dict(title="Neerslag", yr=[0, 14], dt=2, mem=pr_members, oper=pr_oper, ctrl=pr_ctrl, mean=pr_mean, med=pr_median, zero=False),
    dict(title="10m wind", yr=[0, 16], dt=2, mem=ws_members, oper=ws_oper, ctrl=ws_ctrl, mean=ws_mean, med=ws_median, zero=False),
    dict(title="10m windstoten", yr=[0, 32], dt=2, mem=gust_members, oper=gust_oper, ctrl=gust_ctrl, mean=gust_mean, med=gust_median, zero=False),
]

fig = go.Figure()
layout = dict(width=W, height=H, margin=dict(l=0, r=0, t=0, b=0), autosize=False,
              paper_bgcolor="white", plot_bgcolor="white", showlegend=False,
              font=dict(family=FONT, size=11, color="black"))
shapes = []
annotations = []


def xaxis_cfg(k, rng):
    return dict(domain=[pxx(X0), pxx(X1)], anchor="y" + sfx(k), type="date", range=rng,
                tickmode="array", tickvals=noons, ticktext=day_labels,
                ticks="outside", ticklen=4, tickcolor="black", tickwidth=1, ticklabelstandoff=-1,
                showgrid=True, gridcolor=C_GRID, gridwidth=1,
                minor=dict(dtick=6 * 3600 * 1000, tick0="2025-12-26 00:00", ticks="outside",
                           ticklen=4, tickcolor="black", showgrid=True, gridcolor=C_GRID, gridwidth=1),
                showline=True, linecolor="black", linewidth=1, mirror=True, zeroline=False,
                tickfont=dict(family=FONT, size=11, color="black"), fixedrange=True)


def yaxis_cfg(k, rng, dt, zero):
    top = 300 * (k - 1) + TOP_OFF
    bot = 300 * (k - 1) + BOT_OFF
    return dict(domain=[py(bot), py(top)], anchor="x" + sfx(k), range=rng, tick0=0, dtick=dt,
                ticks="outside", ticklen=4, tickcolor="black", showgrid=True, gridcolor=C_GRID,
                showline=True, linecolor="black", linewidth=1, mirror=True,
                zeroline=zero, zerolinecolor="black", zerolinewidth=2.4,
                tickfont=dict(family=FONT, size=12, color="black"), fixedrange=True)


def header(k):
    base = 300 * (k - 1)
    annotations.append(dict(xref="paper", yref="paper", x=pxx(633), y=py(base + 4.5), xanchor="right", yanchor="middle",
                            text="Weerplaza.nl - regio zuidoost", showarrow=False,
                            font=dict(family=FONT, size=9.5, color="#a0a0a0")))
    annotations.append(dict(xref="paper", yref="paper", x=pxx(633), y=py(base + 14.5), xanchor="right", yanchor="middle",
                            text="Gemaakt: do 25 dec 21:49", showarrow=False,
                            font=dict(family=FONT, size=9.5, color="#a0a0a0")))


def title_ann(k, title):
    base = 300 * (k - 1)
    annotations.append(dict(xref="paper", yref="paper", x=pxx(415), y=py(base + 14), xanchor="center", yanchor="middle",
                            text="<b>%s</b>" % title, showarrow=False,
                            font=dict(family=FONT, size=14, color="black")))


def legend_item_line(k, xa, xb, xt, color, width, dash, text):
    yc = py(300 * (k - 1) + 13.3)
    shapes.append(dict(type="line", xref="paper", yref="paper", x0=pxx(xa), x1=pxx(xb), y0=yc, y1=yc,
                       line=dict(color=color, width=width, dash=dash)))
    annotations.append(dict(xref="paper", yref="paper", x=pxx(xt), y=yc, xanchor="left", yanchor="middle",
                            text=text, showarrow=False, font=dict(family=FONT, size=11, color="black")))


def day_line_trace(k, yr):
    xs, ys = [], []
    for m in midnights:
        xs += [m, m, None]
        ys += [yr[0], yr[1], None]
    return go.Scatter(x=xs, y=ys, mode="lines", xaxis="x" + sfx(k), yaxis="y" + sfx(k),
                      line=dict(color=C_DAY, width=1), hoverinfo="skip", cliponaxis=True)


for k, p in enumerate(panels, start=1):
    xa, ya = "x" + sfx(k), "y" + sfx(k)
    layout["xaxis" + sfx(k)] = xaxis_cfg(k, range_main)
    layout["yaxis" + sfx(k)] = yaxis_cfg(k, p["yr"], p["dt"], p["zero"])
    fig.add_trace(day_line_trace(k, p["yr"]))
    for m in p["mem"]:
        fig.add_trace(go.Scatter(x=times[:len(m)], y=m[:n_steps], mode="lines", xaxis=xa, yaxis=ya,
                                 line=dict(color=C_MEMBER, width=1), hoverinfo="skip"))
    if k == 5:
        fig.add_trace(go.Scatter(x=times, y=[gust_threshold_low] * n_steps, mode="lines", xaxis=xa, yaxis=ya,
                                 line=dict(color="#2e5555", width=2, dash="dot")))
        fig.add_trace(go.Scatter(x=times, y=[gust_threshold_high] * n_steps, mode="lines", xaxis=xa, yaxis=ya,
                                 line=dict(color="#ff55ff", width=2, dash="6px,4px")))
    fig.add_trace(go.Scatter(x=times[:len(p["med"])], y=p["med"], mode="lines", xaxis=xa, yaxis=ya,
                             line=dict(color=C_MED, width=2.2, dash="10px,5px")))
    fig.add_trace(go.Scatter(x=times[:len(p["mean"])], y=p["mean"], mode="lines", xaxis=xa, yaxis=ya,
                             line=dict(color=C_MEAN, width=3, dash="dot")))
    fig.add_trace(go.Scatter(x=times[:len(p["ctrl"])], y=p["ctrl"], mode="lines", xaxis=xa, yaxis=ya,
                             line=dict(color=C_CTRL, width=3)))
    fig.add_trace(go.Scatter(x=times[:len(p["oper"])], y=p["oper"], mode="lines", xaxis=xa, yaxis=ya,
                             line=dict(color=C_OPER, width=3)))
    header(k)
    legend_item_line(k, 27.5, 43.7, 47.8, C_OPER, 3.5, "solid", "Oper.")
    legend_item_line(k, 99, 115.4, 118.6, C_CTRL, 3.5, "solid", "Controle")
    legend_item_line(k, 183, 198.4, 202.4, "#9fd696", 1, "solid", "Leden")
    legend_item_line(k, 257, 271, 276.5, C_MEAN, 3, "dot", "gemiddelde")
    legend_item_line(k, 355.5, 370.5, 374.5, C_MED, 2.5, "dash", "mediaan (middelste waarde)")
    title_ann(k, p["title"])

# ---------------- panel 6: cloud cover ----------------
xa, ya = "x6", "y6"
layout["xaxis6"] = xaxis_cfg(6, range_cc)
layout["yaxis6"] = yaxis_cfg(6, [0, 100], 10, False)
fig.add_trace(day_line_trace(6, [0, 100]))
fig.add_trace(go.Bar(x=times_cc, y=[b - a for a, b in zip(cc_p25, cc_p75)], base=cc_p25, xaxis=xa, yaxis=ya,
                     width=4.7 * 3600 * 1000,
                     marker=dict(color="#fafab2", line=dict(color="#c4c4c4", width=1.5)), hoverinfo="skip"))
fig.add_trace(go.Scatter(x=times_cc, y=cc_median, mode="markers", xaxis=xa, yaxis=ya,
                         marker=dict(symbol="line-ew", size=8, line=dict(color="#111111", width=1.2))))
fig.add_trace(go.Scatter(x=times_cc[:len(cc_ctrl)], y=cc_ctrl, mode="lines", xaxis=xa, yaxis=ya,
                         line=dict(color=C_CTRL, width=2.5)))
fig.add_trace(go.Scatter(x=times_cc[:len(cc_oper)], y=cc_oper, mode="lines", xaxis=xa, yaxis=ya,
                         line=dict(color=C_OPER, width=2.5)))
header(6)
yc6 = 300 * 5 + 13.3
for (xa_, xb_, xt_, fill, edge, txt) in [(28, 35.6, 39.3, C_OPER, "#5a1010", "oper"),
                                        (86, 93.5, 97.6, C_CTRL, "#10105a", "control"),
                                        (155, 162.5, 166.4, "#fafab2", "#555555", "50%"),
                                        (213, 220.6, 224.7, "#000000", "#000000", "median")]:
    shapes.append(dict(type="rect", xref="paper", yref="paper", x0=pxx(xa_), x1=pxx(xb_),
                       y0=py(yc6 + 3.8), y1=py(yc6 - 3.8), fillcolor=fill, line=dict(color=edge, width=1)))
    annotations.append(dict(xref="paper", yref="paper", x=pxx(xt_), y=py(yc6), xanchor="left", yanchor="middle",
                            text=txt, showarrow=False, font=dict(family=FONT, size=11, color="black")))
title_ann(6, "Bedekkingsgraad")

layout["shapes"] = shapes
layout["annotations"] = annotations
layout["bargap"] = 0
fig.update_layout(**layout)
fig.write_html("out.html", config={"displayModeBar": False},
               post_script="document.body.style.margin='0px';document.body.style.overflow='hidden';")
